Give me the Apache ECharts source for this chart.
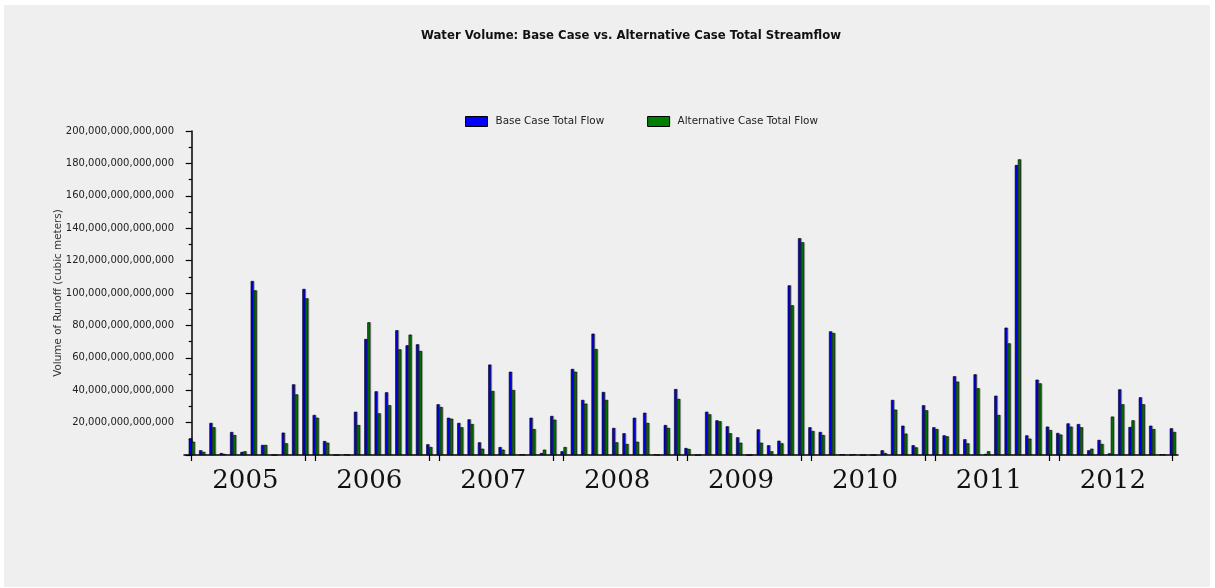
<!DOCTYPE html>
<html>
<head>
<meta charset="utf-8">
<script src="https://cdn.jsdelivr.net/npm/echarts@6/dist/echarts.min.js"></script>
<style>
  body { margin: 0; background: #fff; }
  #bg { position: absolute; left: 4px; top: 5px; width: 1206px; height: 582px; background: #efefef; }
  #chart { position: absolute; left: 0; top: 0; width: 1215px; height: 588px; }
</style>
</head>
<body>
<div id="bg"></div>
<div id="chart"></div>
<script>
// monthly volumes, in trillions of cubic meters, Jan 2005 .. Dec 2012
const years = ['2005', '2006', '2007', '2008', '2009', '2010', '2011', '2012'];

const baseFlow = [
  10.3, 2.9, 19.8, 1.2, 14.2, 1.9, 107.4, 6.2, 0, 13.8, 43.6, 102.5,
  24.7, 8.6, 0, 0.3, 26.7, 71.6, 39.3, 38.7, 77.0, 67.7, 68.3, 6.6,
  31.3, 23.0, 19.8, 22.0, 7.8, 55.8, 4.9, 51.4, 0.3, 23.0, 1.2, 24.1,
  2.3, 53.1, 34.0, 74.9, 38.9, 16.7, 13.4, 23.0, 26.1, 0.3, 18.5, 40.7,
  4.3, 0, 26.7, 21.4, 17.7, 10.9, 0, 15.8, 6.0, 8.8, 104.7, 133.8,
  17.1, 14.2, 76.3, 0.3, 0, 0, 0, 2.9, 34.0, 18.1, 6.0, 30.7,
  17.1, 12.1, 48.6, 9.7, 49.8, 0.6, 36.6, 78.6, 179.0, 12.1, 46.5, 17.5,
  13.6, 19.5, 19.1, 2.9, 9.3, 1.0, 40.5, 17.3, 35.6, 18.1, 0.3, 16.5
];

const altFlow = [
  8.2, 1.9, 17.1, 0.6, 12.3, 2.3, 101.6, 6.2, 0, 7.2, 37.4, 96.7,
  23.0, 7.6, 0, 0, 18.5, 81.9, 25.7, 30.7, 65.2, 74.3, 64.2, 4.9,
  29.6, 22.4, 17.1, 19.1, 3.9, 39.5, 3.3, 40.1, 0.2, 16.0, 3.3, 21.8,
  4.9, 51.4, 31.7, 65.4, 34.0, 7.8, 6.8, 8.2, 19.8, 0, 16.7, 34.6,
  3.7, 0, 25.1, 20.8, 13.4, 7.6, 0, 7.6, 2.3, 7.2, 92.4, 131.3,
  14.8, 12.3, 75.3, 0.3, 0.5, 0, 0, 1.2, 28.0, 13.2, 4.7, 27.6,
  16.0, 11.5, 45.3, 7.2, 41.2, 2.3, 24.7, 68.9, 182.5, 10.1, 44.2, 15.4,
  12.6, 17.5, 17.1, 3.9, 6.8, 23.7, 31.3, 21.4, 31.3, 16.0, 0.3, 14.2
];

const TRILLION = 1e12;
const font = 'DejaVu Sans';

// ticks at first and last month of every year, labels near mid-year
const tickValues = [];
const labelValues = [];
years.forEach((y, i) => {
  tickValues.push(i * 12, i * 12 + 11);
  labelValues.push(i * 12 + 5.2);
});

const barStyle = (color) => ({
  color: color,
  borderColor: '#000',
  borderWidth: 0.6,
  shadowColor: 'rgba(0,0,0,0.3)',
  shadowOffsetX: 1,
  shadowBlur: 0
});

const chart = echarts.init(document.getElementById('chart'));
chart.setOption({
  animation: false,
  title: {
    text: 'Water Volume: Base Case vs. Alternative Case Total Streamflow',
    left: 416,
    top: 25,
    textStyle: { fontFamily: font, fontSize: 11.7, fontWeight: 'bold', color: '#111' }
  },
  legend: {
    left: 460,
    top: 111,
    itemWidth: 22,
    itemHeight: 10,
    itemGap: 43,
    textStyle: { fontFamily: font, fontSize: 10.4, color: '#222', padding: [0, 0, 0, 3] },
    data: [
      { name: 'Base Case Total Flow', icon: 'rect', itemStyle: { borderColor: '#000', borderWidth: 1 } },
      { name: 'Alternative Case Total Flow', icon: 'rect', itemStyle: { borderColor: '#000', borderWidth: 1 } }
    ]
  },
  grid: { left: 184, right: 37, top: 131, bottom: 133, containLabel: false },
  xAxis: {
    type: 'value',
    min: -0.745,
    max: 95.51,
    splitLine: { show: false },
    axisLine: { show: true, lineStyle: { color: '#000', width: 1.5 } },
    axisTick: { show: true, customValues: tickValues, length: 6, lineStyle: { color: '#000', width: 1.2 } },
    axisLabel: {
      customValues: labelValues,
      formatter: (v) => years[Math.round((v - 5.2) / 12)],
      fontFamily: 'DejaVu Serif',
      fontSize: 26,
      color: '#111',
      margin: 13
    }
  },
  yAxis: {
    type: 'value',
    min: 0,
    max: 200 * TRILLION,
    interval: 20 * TRILLION,
    name: 'Volume of Runoff (cubic meters)',
    nameLocation: 'middle',
    nameGap: 121,
    nameMoveOverlap: false,
    nameTextStyle: { fontFamily: font, fontSize: 10.4, color: '#333' },
    splitLine: { show: false },
    axisLine: { show: true, lineStyle: { color: '#000', width: 1.5 } },
    axisTick: { show: true, length: 6, lineStyle: { color: '#000', width: 1.2 } },
    minorTick: { show: true, splitNumber: 2, length: 3, lineStyle: { color: '#000', width: 1.2 } },
    axisLabel: {
      fontFamily: font,
      fontSize: 10,
      color: '#222',
      margin: 10,
      formatter: (v) => (v === 0 ? '' : v.toLocaleString('en-US'))
    }
  },
  series: [
    {
      name: 'Base Case Total Flow',
      type: 'bar',
      barWidth: 3,
      barGap: '0%',
      itemStyle: barStyle('#0000ff'),
      data: baseFlow.map((v, i) => [i, v * TRILLION])
    },
    {
      name: 'Alternative Case Total Flow',
      type: 'bar',
      barWidth: 3,
      barGap: '0%',
      itemStyle: barStyle('#008000'),
      data: altFlow.map((v, i) => [i, v * TRILLION])
    }
  ]
});
</script>
</body>
</html>
